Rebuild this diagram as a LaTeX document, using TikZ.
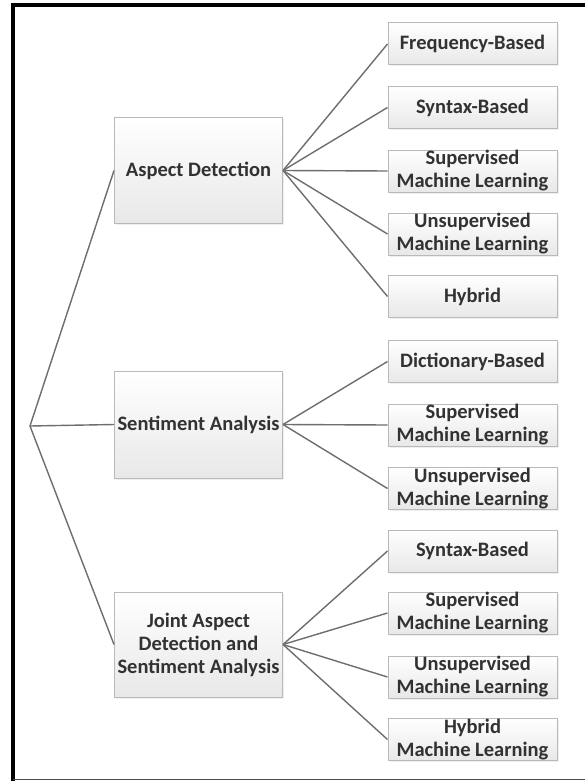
\documentclass[tikz,border=0pt]{standalone}
\usepackage{fontspec}
\setmainfont{Carlito}
\usetikzlibrary{shadows}
\definecolor{boxline}{RGB}{185,185,185}
\definecolor{txt}{RGB}{50,50,50}
\definecolor{conn}{RGB}{110,110,110}
\tikzset{
  box/.style={draw=boxline, line width=1pt, top color=white, bottom color=black!9,
    drop shadow={opacity=0.12, shadow xshift=1.5pt, shadow yshift=-1.5pt},
    font=\fontsize{20.5}{23}\selectfont\bfseries, text=txt, align=center, inner sep=0pt},
  bigbox/.style={box, minimum width=168pt, minimum height=105pt},
  leafbox/.style={box, minimum width=169pt, minimum height=42pt},
  link/.style={draw=conn, line width=1.4pt}
}
\begin{document}
\begin{tikzpicture}[x=1pt,y=-1pt]
\useasboundingbox (0,0) rectangle (585,781);
\fill[white] (0,0) rectangle (585,781);
% frame
\draw[line width=4.5pt, black] (13,5) -- (585,5);
\draw[line width=4.5pt, black] (13,3) -- (13,781);
\draw[line width=1.5pt, black!70] (13,779.5) -- (585,779.5);

\coordinate (root) at (30,426);

\node[bigbox] (ad) at (198.5,170.5) {Aspect Detection};
\node[bigbox, minimum height=107pt] (sa) at (198.5,424.5) {Sentiment Analysis};
\node[bigbox] (ja) at (198.5,644.5) {Joint Aspect\\Detection and\\Sentiment Analysis};

\node[leafbox] (a1) at (472.5,44) {Frequency-Based};
\node[leafbox] (a2) at (472.5,107.5) {Syntax-Based};
\node[leafbox] (a3) at (472.5,171) {Supervised\\Machine Learning};
\node[leafbox] (a4) at (472.5,234) {Unsupervised\\Machine Learning};
\node[leafbox] (a5) at (472.5,296.5) {Hybrid};

\node[leafbox] (s1) at (472.5,361.5) {Dictionary-Based};
\node[leafbox] (s2) at (472.5,425) {Supervised\\Machine Learning};
\node[leafbox] (s3) at (472.5,488.5) {Unsupervised\\Machine Learning};

\node[leafbox] (j1) at (472.5,551) {Syntax-Based};
\node[leafbox] (j2) at (472.5,613) {Supervised\\Machine Learning};
\node[leafbox] (j3) at (472.5,677) {Unsupervised\\Machine Learning};
\node[leafbox] (j4) at (472.5,739.5) {Hybrid\\Machine Learning};

\draw[link] (root) -- (ad.west);
\draw[link] (root) -- (sa.west);
\draw[link] (root) -- (ja.west);
\foreach \c in {a1,a2,a3,a4,a5} \draw[link] (ad.east) -- (\c.west);
\foreach \c in {s1,s2,s3} \draw[link] (sa.east) -- (\c.west);
\foreach \c in {j1,j2,j3,j4} \draw[link] (ja.east) -- (\c.west);
\end{tikzpicture}
\end{document}
